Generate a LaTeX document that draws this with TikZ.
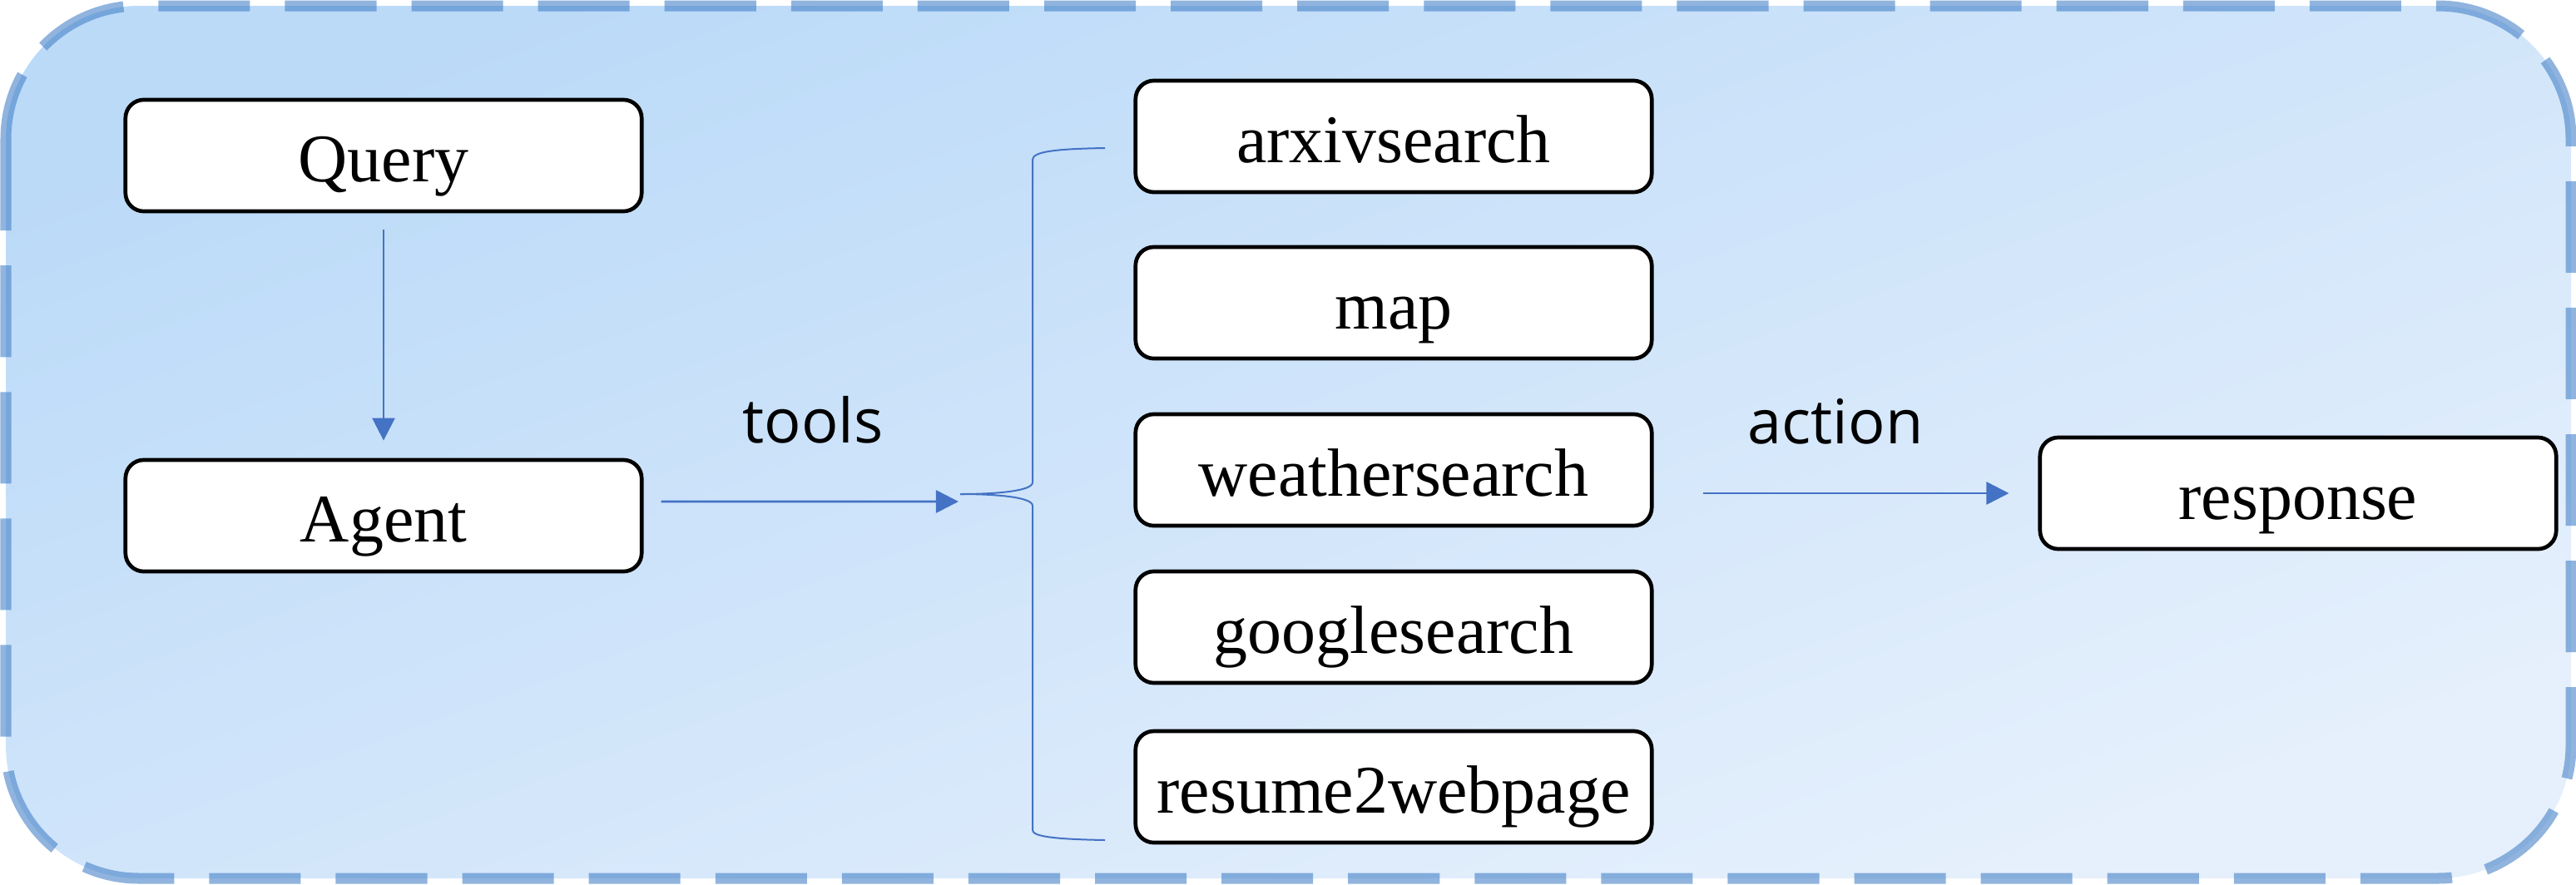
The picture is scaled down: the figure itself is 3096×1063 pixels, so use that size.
\documentclass[tikz,border=0pt]{standalone}
\usepackage{fontspec}
\setmainfont{Liberation Serif}
\newfontfamily\labelfont{Open Sans}
\usetikzlibrary{arrows.meta}
\definecolor{linkblue}{RGB}{68,114,196}
\definecolor{bgtop}{RGB}{187,218,248}
\definecolor{bgbot}{RGB}{230,240,252}
\definecolor{rim}{RGB}{70,130,200}
\begin{document}
\begin{tikzpicture}[x=0.01cm,y=-0.01cm,
  toolbox/.style={draw=black, line width=0.047cm, fill=white, rounded corners=0.22cm,
    minimum width=6.2cm, minimum height=1.34cm, inner sep=0pt,
    font=\fontsize{23.3}{28}\selectfont, text height=0.62cm, text depth=0pt},
  arr/.style={draw=linkblue, line width=0.027cm, -{Triangle[length=0.27cm,width=0.27cm]}},
  lbl/.style={font=\labelfont\fontsize{21}{25}\selectfont, anchor=base, inner sep=0pt},
  bracestyle/.style={draw=linkblue, line width=0.02cm}]
\useasboundingbox (0,0) rectangle (3096,1063);
\shade[top color=bgtop, bottom color=bgbot, shading angle=20, rounded corners=1.6cm] (7,7) rectangle (3090,1056);
\draw[rim, draw opacity=0.6, line width=0.13cm, dash pattern=on 1.1cm off 0.42cm, rounded corners=1.6cm] (7,7) rectangle (3090,1056);

\node[toolbox] (query) at (461,187) {Query};
\node[toolbox] (agent) at (461,620) {Agent};
\node[toolbox] (arxiv) at (1675,164) {arxivsearch};
\node[toolbox] (map) at (1675,364) {map};
\node[toolbox] (weather) at (1675,565) {weathersearch};
\node[toolbox] (google) at (1675,754) {googlesearch};
\node[toolbox] (resume) at (1675,946) {resume2webpage};
\node[toolbox] (response) at (2762,593) {response};
\node[lbl] (tools) at (977,532) {tools};
\node[lbl] (action) at (2206,533) {action};

\coordinate (tip) at (1154,594);
\coordinate (btop) at (1328,178);
\coordinate (bbot) at (1328,1010);
\coordinate (tin) at (1152,603);
\draw[bracestyle] (btop) .. controls (1270,179) and (1241,182) .. (1241,192) -- (1241,580) .. controls (1241,590) and (1200,594) .. (tip);
\draw[bracestyle] (tip) .. controls (1200,594) and (1241,598) .. (1241,608) -- (1241,998) .. controls (1241,1006) and (1270,1009) .. (bbot);

\draw[arr, shorten <=0.2cm, shorten >=0.21cm] (query) -- (agent);
\draw[arr, shorten <=0.21cm] ([yshift=0.17cm]agent.east) -- (tin);
\draw[arr, shorten <=0.59cm, shorten >=0.35cm] (weather.east |- response.west) -- (response.west);
\end{tikzpicture}
\end{document}
